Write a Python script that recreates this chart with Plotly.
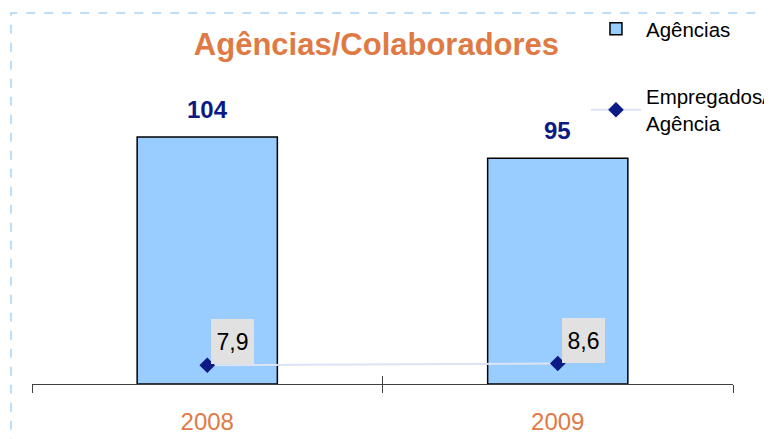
import plotly.graph_objects as go

years = ["2008", "2009"]
agencias = [104, 95]
empregados_por_agencia = [7.9, 8.6]

title_text = "Agências/Colaboradores"
bar_name = "Agências"
line_name = "Empregados/<br>Agência"

ORANGE = "#E07A45"
NAVY = "#0C1A85"
FONT = "Liberation Sans, Arial, sans-serif"

fig = go.Figure()
fig.add_trace(go.Bar(
    x=years, y=agencias, name=bar_name, width=0.4,
    marker=dict(color="#99CCFF", line=dict(color="#000000", width=1.5)),
    xaxis="x", yaxis="y", legendgroup="a",
))
fig.add_trace(go.Scatter(
    x=years, y=empregados_por_agencia, name=line_name, mode="lines+markers",
    line=dict(color="#DCE3F2", width=2),
    marker=dict(symbol="diamond", size=12, color=NAVY),
    xaxis="x2", yaxis="y", legendgroup="b",
))

annotations = []
for i, v in enumerate(agencias):
    annotations.append(dict(
        x=i, y=v, xref="x", yref="y", text=f"<b>{v}</b>", showarrow=False,
        yanchor="bottom", yshift=12, font=dict(size=24, color=NAVY, family=FONT),
    ))
for i, v in enumerate(empregados_por_agencia):
    annotations.append(dict(
        x=i, y=v, xref="x", yref="y", text=f"{v:.1f}".replace(".", ","),
        showarrow=False, xanchor="left", yanchor="bottom", xshift=4, yshift=1,
        width=43, height=45, valign="middle", align="center",
        bgcolor="#E1E1E1", borderpad=0, borderwidth=0,
        font=dict(size=23, color="#000000", family=FONT),
    ))

fig.update_layout(
    width=764, height=431,
    margin=dict(l=24, r=39, t=52, b=55, autoexpand=False),
    paper_bgcolor="white", plot_bgcolor="white",
    font=dict(family=FONT),
    title=dict(text=f"<b>{title_text}</b>", x=0.4823, xref="container", xanchor="center",
               y=0.9165, yref="container", yanchor="middle",
               font=dict(size=31, color=ORANGE, family=FONT)),
    xaxis=dict(type="category", range=[-0.5, 1.5], showline=True, linecolor="#404040",
               linewidth=1.3, ticks="outside", tickson="boundaries", ticklen=8,
               tickcolor="#404040", tickwidth=1.3, showgrid=False, zeroline=False,
               tickfont=dict(size=24, color=ORANGE, family=FONT), ticklabelstandoff=16),
    xaxis2=dict(type="category", overlaying="x", anchor="y", side="bottom",
                range=[-0.5, 1.5], showline=False, ticks="inside", tickson="boundaries",
                ticklen=8, tickcolor="#404040", tickwidth=1.3, showticklabels=False,
                showgrid=False, zeroline=False),
    yaxis=dict(range=[0, 136.4], visible=False, showgrid=False, zeroline=False),
    showlegend=True,
    legend=dict(x=0.7565, xref="container", xanchor="left", y=0.9977, yref="container",
                yanchor="top", traceorder="grouped", tracegroupgap=38, itemwidth=50,
                font=dict(size=20.5, color="#000000", family=FONT),
                bgcolor="rgba(0,0,0,0)"),
    annotations=annotations,
    shapes=[dict(type="rect", xref="paper", yref="paper", x0=-0.03, x1=1.0528,
                 y0=-0.3, y1=1.145, line=dict(color="#A9D3F5", width=1.5, dash="dash"),
                 fillcolor="rgba(0,0,0,0)", layer="below")],
)

fig.write_html("out.html")
